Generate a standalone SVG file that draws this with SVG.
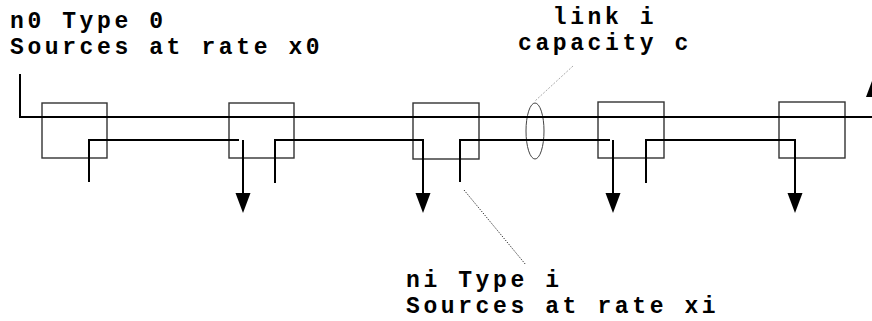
<svg xmlns="http://www.w3.org/2000/svg" width="872" height="321" viewBox="0 0 872 321">
<defs>
<style>
.t{font-family:"Liberation Mono","Courier New",monospace;font-weight:bold;font-size:23px;letter-spacing:3.6px;fill:#000}
.box{fill:none;stroke:#333;stroke-width:1.4}
.ln{fill:none;stroke:#000;stroke-width:2}
.ah{fill:#000}
</style>
</defs>
<rect width="872" height="321" fill="#fff"/>
<g id="node1"><rect class="box" x="42" y="103" width="65" height="55"/></g>
<g id="node2"><rect class="box" x="229" y="103" width="65" height="55"/></g>
<g id="node3"><rect class="box" x="413" y="103" width="66" height="56"/></g>
<g id="node4"><rect class="box" x="598" y="102" width="66" height="56"/></g>
<g id="node5"><rect class="box" x="779" y="102" width="66" height="56"/></g>
<g id="link"><ellipse cx="535" cy="131" rx="9" ry="28" fill="none" stroke="#444" stroke-width="1"/></g>
<g id="connectors">
<path class="ln" d="M20,74 V117 H872"/>
<path class="ln" d="M89,182 V140 H239"/>
<path class="ln" d="M243,140 V195"/>
<polygon class="ah" points="235.5,193 250.5,193 243,213"/>
<path class="ln" d="M275,183 V140 H423 V195"/>
<polygon class="ah" points="415.5,193 430.5,193 423,213"/>
<path class="ln" d="M460,182 V140 H610"/>
<path class="ln" d="M613,140 V195"/>
<polygon class="ah" points="605.5,193 620.5,193 613,213"/>
<path class="ln" d="M646,183 V140 H795 V195"/>
<polygon class="ah" points="787.5,193 802.5,193 795,213"/>
<polygon class="ah" points="866,97 873.5,77 881,97"/>
<path d="M573,66 L535,101" fill="none" stroke="#aaa" stroke-width="1" stroke-dasharray="2,1.5"/>
<path d="M464,190 L526,265" fill="none" stroke="#000" stroke-width="1" stroke-dasharray="1,1.5"/>
</g>
<g id="labels">
<text class="t"><tspan x="10" y="28">n0 Type 0</tspan><tspan x="10" y="54">Sources at rate x0</tspan></text>
<text class="t" text-anchor="middle"><tspan x="605" y="24">link i</tspan><tspan x="605" y="50">capacity c</tspan></text>
<text class="t"><tspan x="406" y="287">ni Type i</tspan><tspan x="406" y="313">Sources at rate xi</tspan></text>
</g>
</svg>
